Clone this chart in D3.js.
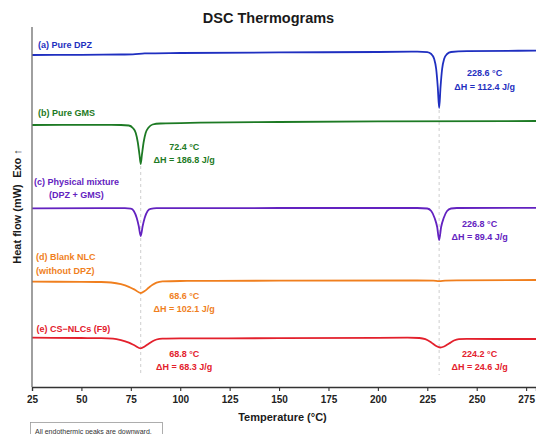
<!DOCTYPE html>
<html>
<head>
<meta charset="utf-8">
<script src="https://cdn.jsdelivr.net/npm/d3@7"></script>
<style>
  html, body { margin: 0; padding: 0; background: #fff; }
  svg { display: block; font-family: "Liberation Sans", Arial, sans-serif; }
</style>
</head>
<body>
<svg id="chart" width="536" height="434"></svg>
<script>
// ---------- data (temperature °C, heat-flow offset) ----------
const xTicks = [25, 50, 75, 100, 125, 150, 175, 200, 225, 250, 275];

const pureDPZ = [[25,332],[50,332.2],[70,332.5],[76,332.6],[82,333.6],[100,334],[150,334.6],[200,335],[220,335.3],[225,334.8],[227,333],[228.5,328],[229.5,318],[230.3,300],[231,279],[231.7,300],[232.5,318],[233.5,328],[235,333],[237,335],[245,335.8],[280,336.3]];
const pureGMS = [[25,262],[50,262.2],[70,262],[74,261.5],[76,259],[77.5,254],[78.5,245],[79.4,232],[80,223],[80.6,232],[81.5,245],[82.5,254],[84,259.5],[86,262.5],[90,263.5],[110,264.3],[150,265],[200,265.6],[280,266]];
const physMix = [[25,178.7],[60,178.8],[72,178.8],[75,178.3],[76.5,176],[78,169],[79,161],[80,151],[81,161],[82,169],[83.5,176],[85,178.2],[88,178.8],[150,179],[220,179],[225,178.5],[227,176],[228.7,169],[230,160],[231,147],[232,160],[233.3,169],[235,176],[237,178.5],[240,179],[280,179.2]];
const blankNLC = [[25,105.3],[50,105.2],[60,105],[65,104.5],[70,102.8],[74,100.2],[77,97.3],[80,94],[82,96],[84,99.2],[86,102.2],[88,104.3],[91,105.6],[100,106],[150,106.3],[220,106.5],[228,106.3],[231,105.8],[234,106.3],[240,106.6],[280,107]];
const csNLC = [[25,49.3],[50,49],[60,48.8],[66,48.3],[70,46.8],[74,44.3],[77,41.5],[80,38.7],[82,40.5],[84,43.2],[86,45.8],[88,47.5],[91,48.4],[100,48.6],[150,48.8],[200,49.2],[215,49.4],[221,49],[224,47.8],[227,44.5],[229.5,41],[231.5,39.5],[233.5,40.5],[236,43.5],[238.5,46.5],[241,47.8],[245,48.1],[260,48],[280,48]];

const seriesNames = ["(a) Pure DPZ", "(b) Pure GMS", "(c) Physical mixture", "(d) Blank NLC", "(e) CS\u2212NLCs (F9)"];
const seriesColors = ["#1f2fc0", "#1d7a24", "#6322c0", "#f07f1e", "#e3202c"];
const peakTemps = [80, 231];

// annotations: [text lines], temperature position of centre, value position of first baseline
const annoTexts = [
  ["228.6 \u00B0C", "\u0394H = 112.4 J/g"],
  ["72.4 \u00B0C", "\u0394H = 186.8 J/g"],
  ["226.8 \u00B0C", "\u0394H = 89.4 J/g"],
  ["68.6 \u00B0C", "\u0394H = 102.1 J/g"],
  ["68.8 \u00B0C", "\u0394H = 68.3 J/g"],
  ["224.2 \u00B0C", "\u0394H = 24.6 J/g"]
];
const annoSeries = [0, 1, 2, 3, 4, 4];
const annoX = [254, 102, 251.5, 102, 102, 251.5];
const annoY = [311, 237.5, 160.2, 88.5, 30.2, 30.2];

// ---------- layout ----------
const svg = d3.select("#chart");
const x = d3.scaleLinear().domain([25, 280]).range([32, 536]);
const y = d3.scaleLinear().domain([0, 360]).range([387, 27]);

// title
svg.append("text").attr("x", 268.5).attr("y", 22.5).attr("text-anchor", "middle")
  .attr("font-size", 14.5).attr("font-weight", "bold").attr("fill", "#1a1a1a").text("DSC Thermograms");

// dashed guide lines
const guideTop = [223, 279];
peakTemps.forEach((t, i) => {
  svg.append("line").attr("x1", x(t)).attr("x2", x(t))
    .attr("y1", y(guideTop[i]) + 2).attr("y2", y(12))
    .attr("stroke", "#c8c8c8").attr("stroke-width", 0.9).attr("stroke-dasharray", "3,3");
});

// curves
const line = d3.line().x(d => x(d[0])).y(d => y(d[1])).curve(d3.curveMonotoneX);
[pureDPZ, pureGMS, physMix, blankNLC, csNLC].forEach((s, i) => {
  svg.append("path").datum(s).attr("d", line).attr("fill", "none")
    .attr("stroke", seriesColors[i]).attr("stroke-width", 1.8).attr("stroke-linejoin", "round");
});

// series labels
const lbl = (t, xx, yy, c, anchor) => svg.append("text").attr("x", xx).attr("y", yy)
  .attr("text-anchor", anchor || "start").attr("font-size", 9).attr("font-weight", "bold")
  .attr("fill", c).text(t);
lbl(seriesNames[0], 38, 48.3, seriesColors[0]);
lbl(seriesNames[1], 38, 116, seriesColors[1]);
lbl(seriesNames[2], 76.5, 185, seriesColors[2], "middle");
lbl("(DPZ + GMS)", 76.5, 197.8, seriesColors[2], "middle");
lbl(seriesNames[3], 36, 260, seriesColors[3]);
lbl("(without DPZ)", 36, 273.5, seriesColors[3]);
lbl(seriesNames[4], 36.5, 331.8, seriesColors[4]);

// annotations
annoTexts.forEach((lines, i) => {
  lines.forEach((t, j) => {
    svg.append("text").attr("x", x(annoX[i])).attr("y", y(annoY[i]) + j * 13.5)
      .attr("text-anchor", "middle").attr("font-size", 9).attr("font-weight", "bold")
      .attr("fill", seriesColors[annoSeries[i]]).text(t);
  });
});

// axes
const xAxis = d3.axisBottom(x).tickValues(xTicks).tickSize(4).tickPadding(5);
const gx = svg.append("g").attr("transform", "translate(0,387)").call(xAxis);
gx.select(".domain").attr("stroke", "#333").attr("stroke-width", 1.3);
gx.selectAll(".tick line").attr("stroke", "#333").attr("stroke-width", 1.1);
gx.selectAll(".tick text").attr("font-size", 10).attr("font-weight", "bold")
  .attr("fill", "#222").attr("font-family", "Liberation Sans, Arial, sans-serif");

svg.append("line").attr("x1", 32).attr("x2", 32).attr("y1", 27).attr("y2", 387)
  .attr("stroke", "#777").attr("stroke-width", 1.4);

// axis titles
svg.append("text").attr("x", 282.5).attr("y", 420.5).attr("text-anchor", "middle")
  .attr("font-size", 11).attr("font-weight", "bold").attr("fill", "#1a1a1a").text("Temperature (\u00B0C)");
svg.append("text").attr("transform", "translate(21,224) rotate(-90)").attr("text-anchor", "middle")
  .attr("font-size", 11).attr("font-weight", "bold").attr("fill", "#1a1a1a").text("Heat flow (mW)");
svg.append("text").attr("transform", "translate(21,163.5) rotate(-90)").attr("text-anchor", "middle")
  .attr("font-size", 11).attr("font-weight", "bold").attr("fill", "#1a1a1a").text("Exo \u2191");

// footnote box
svg.append("rect").attr("x", 30.5).attr("y", 422.5).attr("width", 132).attr("height", 20)
  .attr("fill", "#fff").attr("stroke", "#999").attr("stroke-width", 0.8);
svg.append("text").attr("x", 35).attr("y", 433.5).attr("font-size", 7).attr("fill", "#333")
  .text("All endothermic peaks are downward.");
</script>
</body>
</html>
